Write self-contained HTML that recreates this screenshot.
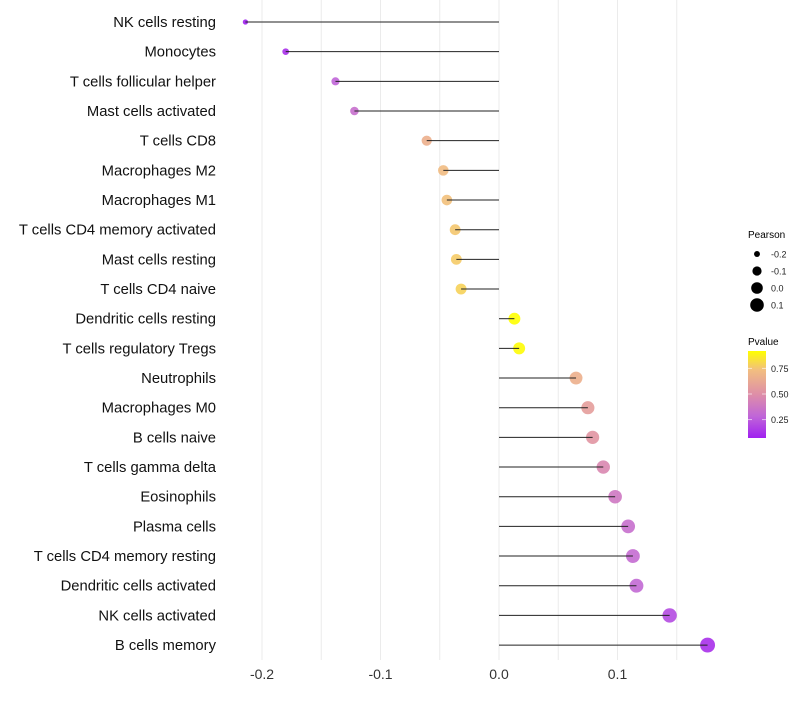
<!DOCTYPE html>
<html><head><meta charset="utf-8"><style>
body{margin:0;background:#fff;}
svg text{font-family:"Liberation Sans",sans-serif;}
</style></head><body>
<svg id="chart" width="800" height="700" xmlns="http://www.w3.org/2000/svg">
<g id="grid"></g>
<g id="marks"></g>
<g id="ylabels"></g>
<g id="xticks"></g>
<g id="sizeleg">
<text x="748" y="238" font-size="10">Pearson</text>
</g>
<g>
<text x="748" y="345" font-size="10">Pvalue</text>
<defs><linearGradient id="pg" x1="0" y1="1" x2="0" y2="0">
<stop offset="0" stop-color="#A020F0"/><stop offset="0.25" stop-color="#C066D8"/><stop offset="0.5" stop-color="#DE8EA8"/><stop offset="0.78" stop-color="#F2BE80"/><stop offset="1" stop-color="#FFFF00"/>
</linearGradient></defs>
<rect x="748" y="351" width="18" height="87" fill="url(#pg)"/>
<g id="cticks"></g>
</g>
</svg>
<script>
const categories=["NK cells resting","Monocytes","T cells follicular helper","Mast cells activated","T cells CD8","Macrophages M2","Macrophages M1","T cells CD4 memory activated","Mast cells resting","T cells CD4 naive","Dendritic cells resting","T cells regulatory  Tregs ","Neutrophils","Macrophages M0","B cells naive","T cells gamma delta","Eosinophils","Plasma cells","T cells CD4 memory resting","Dendritic cells activated","NK cells activated","B cells memory"];
const pearson=[-0.214,-0.180,-0.138,-0.122,-0.061,-0.047,-0.044,-0.037,-0.036,-0.032,0.013,0.017,0.065,0.075,0.079,0.088,0.098,0.109,0.113,0.116,0.144,0.176];
const pvalue=[0.07,0.12,0.28,0.33,0.66,0.72,0.74,0.76,0.77,0.79,0.93,0.91,0.66,0.57,0.53,0.46,0.38,0.33,0.31,0.30,0.20,0.12];
const xTicks=[-0.2,-0.1,0.0,0.1];
const sizeLegendVals=[-0.2,-0.1,0.0,0.1];
const colorTicks=[0.25,0.50,0.75];
const NS="http://www.w3.org/2000/svg";
const xs=v=>499+v*1185;
const ys=i=>22+i*29.67;
const rs=v=>Math.sqrt(Math.max(1,7+125*(v+0.214)));
const cy=p=>438-(p-0.07)/0.85*87;
function col(p){const t=Math.max(0,Math.min(1,(p-0.07)/0.85));
const st=[[0,[160,32,240]],[0.25,[192,102,216]],[0.5,[222,142,168]],[0.78,[242,190,128]],[1,[255,255,0]]];
for(let k=1;k<st.length;k++){if(t<=st[k][0]){const a=st[k-1],b=st[k],f=(t-a[0])/(b[0]-a[0]);
return`rgb(${a[1].map((c,j)=>Math.round(c+(b[1][j]-c)*f)).join(',')})`;}}return'rgb(255,255,0)';}
function mk(tag,at,parent){const e=document.createElementNS(NS,tag);for(const k in at)e.setAttribute(k,at[k]);parent.appendChild(e);return e;}
const grid=document.getElementById('grid');
for(let v=-0.2;v<=0.151;v+=0.05){const g=mk('line',{x1:xs(v),x2:xs(v),y1:0,y2:660,stroke:'#ebebeb','stroke-width':1},grid);

}
const marks=document.getElementById('marks'),yl=document.getElementById('ylabels');
categories.forEach((c,i)=>{
const d=mk('circle',{cx:xs(pearson[i]),cy:ys(i),r:rs(pearson[i]),fill:col(pvalue[i]),'fill-opacity':0.9},marks);


const l=mk('line',{x1:xs(0),x2:xs(pearson[i]),y1:ys(i),y2:ys(i),stroke:'#222','stroke-width':1},marks);


const t=mk('text',{x:216,y:ys(i)+5,'text-anchor':'end','font-size':14.8,fill:'#111'},yl);t.textContent=c;

});
const xt=document.getElementById('xticks');
xTicks.forEach(v=>{const t=mk('text',{x:xs(v),y:679,'text-anchor':'middle','font-size':14,fill:'#333'},xt);t.textContent=v.toFixed(1);

});
const sl=document.getElementById('sizeleg');
sizeLegendVals.forEach((v,i)=>{const y=254+i*17;
const c=mk('circle',{cx:757,cy:y,r:rs(v),fill:'#000'},sl);


const t=mk('text',{x:771,y:y+3.5,'font-size':9,fill:'#222'},sl);t.textContent=v.toFixed(1);

});
const ct=document.getElementById('cticks');
colorTicks.forEach(p=>{const y=cy(p);
mk('line',{x1:748,x2:752,y1:y,y2:y,stroke:'#fff','stroke-opacity':0.6},ct);
mk('line',{x1:762,x2:766,y1:y,y2:y,stroke:'#fff','stroke-opacity':0.6},ct);
const t=mk('text',{x:771,y:y+3.5,'font-size':9,fill:'#222'},ct);t.textContent=p.toFixed(2);

});
</script>
</body></html>
